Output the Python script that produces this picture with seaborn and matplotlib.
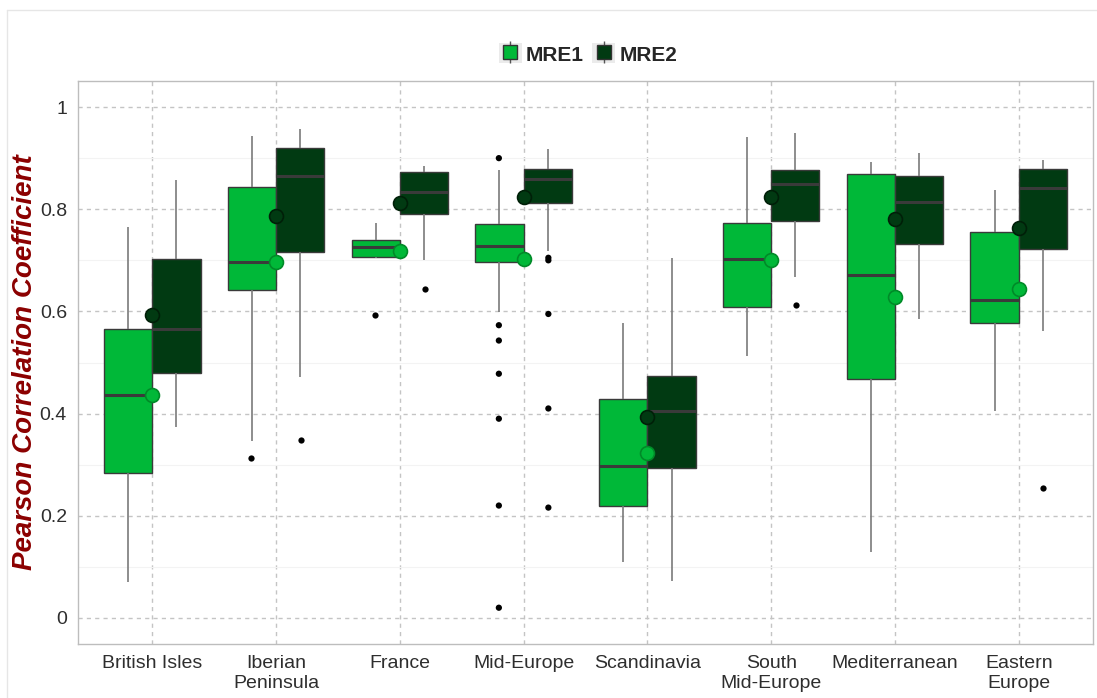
import matplotlib
matplotlib.use("Agg")
import matplotlib.pyplot as plt
from matplotlib.patches import Patch
from matplotlib.lines import Line2D
from matplotlib.legend_handler import HandlerTuple
import seaborn as sns
import pandas as pd
import numpy as np

regions = ["British Isles", "Iberian\nPeninsula", "France", "Mid-Europe",
           "Scandinavia", "South\nMid-Europe", "Mediterranean", "Eastern\nEurope"]
models = ["MRE1", "MRE2"]

# five-number summaries (whisker low, Q1, median, Q3, whisker high)
mre1_lo = [0.070, 0.347, 0.705, 0.599, 0.109, 0.513, 0.129, 0.406]
mre1_q1 = [0.283, 0.641, 0.706, 0.697, 0.219, 0.609, 0.467, 0.577]
mre1_med = [0.436, 0.696, 0.726, 0.729, 0.297, 0.702, 0.671, 0.622]
mre1_q3 = [0.566, 0.843, 0.740, 0.772, 0.428, 0.774, 0.869, 0.755]
mre1_hi = [0.765, 0.944, 0.773, 0.876, 0.578, 0.941, 0.893, 0.838]
mre1_mean = [0.437, 0.697, 0.719, 0.703, 0.322, 0.700, 0.628, 0.644]

mre2_lo = [0.373, 0.472, 0.701, 0.718, 0.073, 0.667, 0.585, 0.562]
mre2_q1 = [0.480, 0.717, 0.790, 0.813, 0.293, 0.776, 0.732, 0.722]
mre2_med = [0.566, 0.866, 0.833, 0.859, 0.406, 0.849, 0.815, 0.842]
mre2_q3 = [0.703, 0.919, 0.873, 0.879, 0.473, 0.876, 0.866, 0.878]
mre2_hi = [0.858, 0.957, 0.885, 0.917, 0.704, 0.949, 0.911, 0.896]
mre2_mean = [0.593, 0.787, 0.812, 0.824, 0.394, 0.824, 0.781, 0.764]

# outliers (region index, value)
mre1_out = [(1, 0.313), (2, 0.593), (3, 0.900), (3, 0.573), (3, 0.543),
            (3, 0.478), (3, 0.390), (3, 0.220), (3, 0.020)]
mre2_out = [(1, 0.348), (2, 0.644), (3, 0.705), (3, 0.700), (3, 0.595),
            (3, 0.410), (3, 0.216), (5, 0.613), (7, 0.255)]

green1 = "#00b838"
green2 = "#013a12"

rows = []
for m, stats in [("MRE1", [mre1_lo, mre1_q1, mre1_med, mre1_q3, mre1_hi]),
                 ("MRE2", [mre2_lo, mre2_q1, mre2_med, mre2_q3, mre2_hi])]:
    for i, r in enumerate(regions):
        for s in stats:
            rows.append({"region": r, "model": m, "value": s[i]})
box_df = pd.DataFrame(rows)

out_df = pd.DataFrame(
    [{"region": regions[i], "model": "MRE1", "value": v} for i, v in mre1_out] +
    [{"region": regions[i], "model": "MRE2", "value": v} for i, v in mre2_out])

mean1_df = pd.DataFrame({"region": regions, "value": mre1_mean})
mean2_df = pd.DataFrame({"region": regions, "value": mre2_mean})

sns.set_style("white")
plt.rcParams["font.family"] = ["Liberation Sans", "DejaVu Sans"]

fig = plt.figure(figsize=(10.97, 6.98), dpi=100)
ax = fig.add_axes([78 / 1097, 1 - 644 / 698, (1093 - 78) / 1097, (644 - 81) / 698])

sns.boxplot(data=box_df, x="region", y="value", hue="model", order=regions,
            hue_order=models, palette=[green1, green2], saturation=1,
            width=0.78, gap=0, whis=np.inf, showfliers=False,
            linewidth=1.0, linecolor="#3a3a3a",
            whiskerprops=dict(color="#7a7a7a", linewidth=1.2),
            capprops=dict(linewidth=0),
            medianprops=dict(color="#3a3a3a", linewidth=2.2),
            legend=False, ax=ax)

sns.stripplot(data=out_df, x="region", y="value", hue="model", order=regions,
              hue_order=models, palette=["black", "black"], dodge=True,
              jitter=False, size=4.5, legend=False, ax=ax)

sns.stripplot(data=mean1_df, x="region", y="value", order=regions, color=green1,
              edgecolor="#008a28", linewidth=1.2, size=10, jitter=False, ax=ax, zorder=5)
sns.stripplot(data=mean2_df, x="region", y="value", order=regions, color=green2,
              edgecolor="#001f08", linewidth=1.2, size=10, jitter=False, ax=ax, zorder=5)

ax.set_xlim(-0.6, 7.6)
ax.set_ylim(-0.051, 1.051)
ax.set_yticks([0, 0.2, 0.4, 0.6, 0.8, 1.0])
ax.set_yticklabels(["0", "0.2", "0.4", "0.6", "0.8", "1"])
ax.set_yticks([0.1, 0.3, 0.5, 0.7, 0.9], minor=True)

# grid
ax.grid(False)
ax.grid(which="minor", axis="y", color="#f3f3f3", linewidth=0.8, linestyle="-")
ax.grid(which="major", axis="both", color="#c4c4c4", linewidth=1.0, linestyle=(0, (3, 3)))
ax.set_axisbelow(True)

ax.set_xlabel("")
ax.set_ylabel("Pearson Correlation Coefficient", color="#8b0000", fontsize=20,
              fontweight="bold", fontstyle="italic")
ax.yaxis.set_label_coords(-(78 - 38) / 1015, 0.5)
ax.tick_params(axis="both", which="major", labelsize=14, labelcolor="#2e2e2e",
               color="#7f7f7f", length=4, width=2.5, direction="out", pad=4)
ax.tick_params(axis="y", which="minor", length=0)
for sp in ax.spines.values():
    sp.set_color("#bdbdbd")
    sp.set_linewidth(1.0)

def key(color):
    bg = Patch(facecolor="#ebebeb", edgecolor="none")
    whisk = Line2D([], [], marker="|", markersize=16, color="#555555",
                   markeredgewidth=1.0, linestyle="none")
    box = Line2D([], [], marker="s", markersize=10, markerfacecolor=color,
                 markeredgecolor="#333333", markeredgewidth=1.0, linestyle="none")
    return (bg, whisk, box)

leg = fig.legend([key(green1), key(green2)], models, loc="center",
                 bbox_to_anchor=(588 / 1097, 1 - 54 / 698),
                 handler_map={tuple: HandlerTuple(ndivide=1, pad=0)},
                 ncol=2, frameon=False, handlelength=1.1, handleheight=1.1,
                 handletextpad=0.2, columnspacing=0.4,
                 prop={"weight": "bold", "size": 15})

# faint screenshot frame
fig.add_artist(Line2D([7 / 1097, 7 / 1097], [0, 1 - 10 / 698], color="#e6e6e6", linewidth=1))
fig.add_artist(Line2D([7 / 1097, 1], [1 - 10 / 698, 1 - 10 / 698], color="#e6e6e6", linewidth=1))

fig.savefig("out.png", dpi=100)
